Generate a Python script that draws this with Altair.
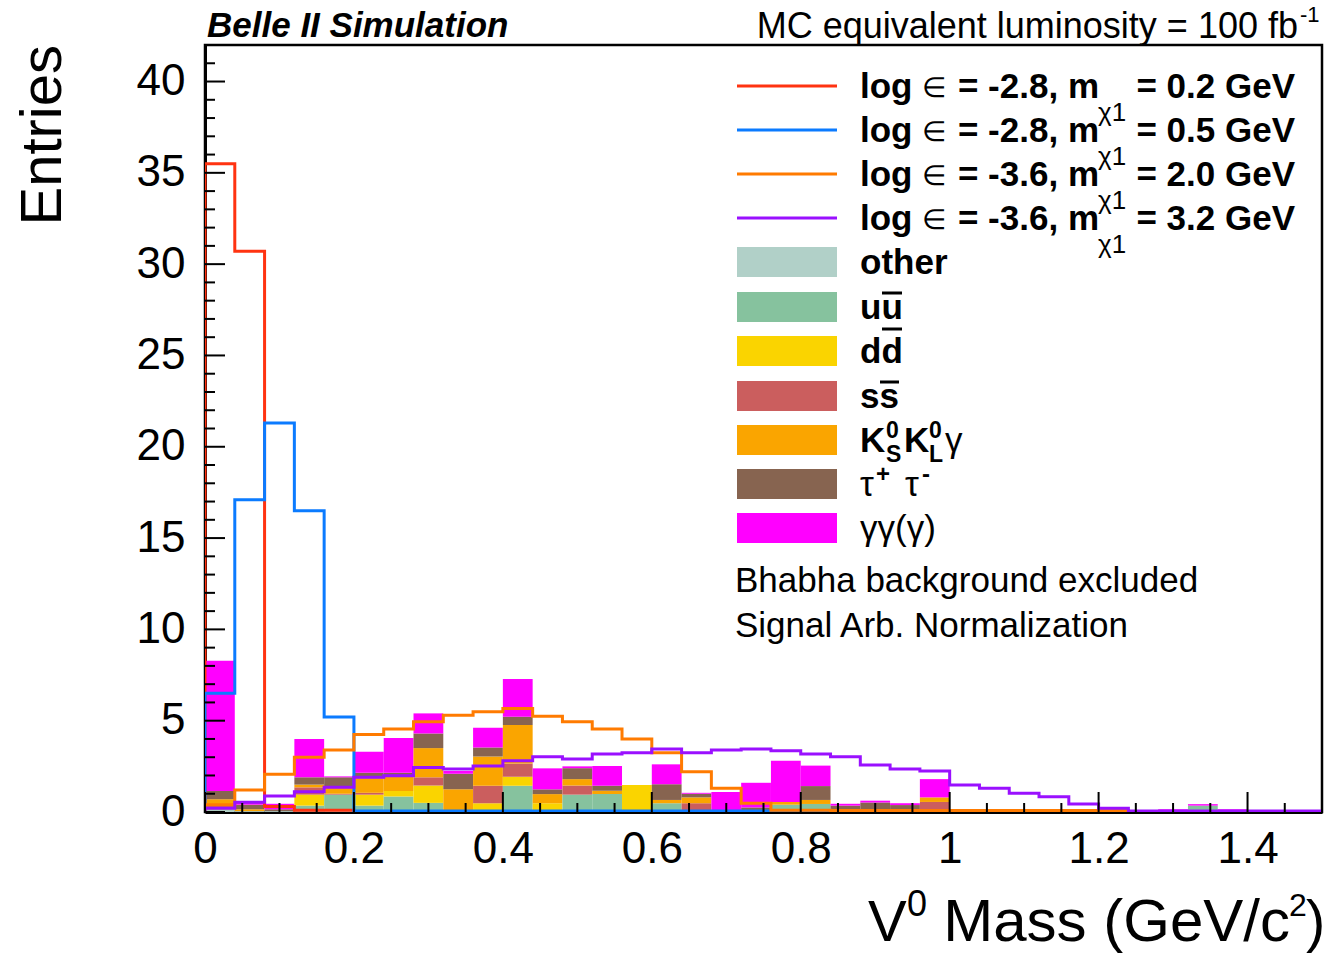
import altair as alt
import pandas as pd

FONT = "Liberation Sans"
BIN_WIDTH = 0.04
X_MAX = 1.5
Y_MAX = 42
W, H = 1117, 767

# ---------------- data ----------------
bkg_names = ["other", "uu", "dd", "ss", "KK", "tautau", "gg"]
bkg_colors = ["#b1d0c8", "#86c29e", "#fad400", "#cb5e5e", "#faa500", "#876450", "#ff00ff"]

bkg_other = [0.1, 0.05, 0.05, 0.05, 0.1, 0.05, 0.05, 0.05, 0.05, 0.05, 0.1, 0.05, 0.1, 0.1, 0.05, 0.1, 0.1, 0.05, 0.05, 0.1,
             0.15, 0.05, 0.07, 0.08, 0.1, 0, 0, 0, 0, 0, 0, 0, 0, 0, 0, 0, 0, 0]
bkg_uu = [0.05, 0, 0, 0.3, 0.85, 0.3, 0.8, 0.45, 0, 0.05, 1.34, 0.05, 0.85, 0.88, 0.05, 0.38, 0, 0, 0, 0.3,
          0.29, 0, 0, 0, 0, 0, 0, 0, 0, 0, 0, 0, 0, 0.35, 0, 0, 0, 0]
bkg_dd = [0.1, 0, 0, 0.6, 0, 0.6, 0.3, 0.95, 0, 0.38, 0.49, 0.38, 0, 0, 1.38, 0, 0, 0, 0, 0,
          0, 0, 0, 0, 0, 0, 0, 0, 0, 0, 0, 0, 0, 0, 0, 0, 0, 0]
bkg_ss = [0.1, 0, 0, 0.4, 0.05, 0.1, 0, 0.45, 0, 0.96, 0.73, 0, 0.5, 0, 0, 0, 0.38, 0, 0, 0,
          0, 0, 0, 0, 0.45, 0, 0, 0, 0, 0, 0, 0, 0, 0, 0, 0, 0, 0]
bkg_kk = [0.35, 0.1, 0, 0.15, 0.35, 0.8, 0.8, 1.6, 1.2, 1.6, 2.1, 0.5, 0.35, 0.19, 0, 0.18, 0.32, 0, 0, 0.15,
          0.22, 0, 0, 0, 0.25, 0, 0, 0, 0, 0, 0, 0, 0, 0, 0, 0, 0, 0]
bkg_tau = [0.45, 0.25, 0.1, 0.4, 0.55, 0.3, 0.2, 0.8, 0.85, 0.49, 0.46, 0.26, 0.6, 0.27, 0, 0.86, 0.2, 0.05, 0.2, 0,
           0.76, 0.3, 0.45, 0.3, 0, 0, 0, 0, 0, 0, 0, 0, 0, 0, 0, 0, 0, 0]
bkg_gg = [7.13, 0.1, 0.3, 2.1, 0.05, 1.15, 1.9, 1.1, 0.15, 1.08, 2.06, 1.15, 0.1, 1.08, 0, 1.09, 0.05, 1.0, 1.35, 2.26,
          1.12, 0.1, 0.1, 0.1, 1.0, 0, 0, 0, 0, 0, 0.25, 0, 0.15, 0.08, 0.15, 0.1, 0.1, 0.1]
bkg_values = [bkg_other, bkg_uu, bkg_dd, bkg_ss, bkg_kk, bkg_tau, bkg_gg]

sig_names = ["sig02", "sig05", "sig20", "sig32"]
sig_colors = ["#ff3311", "#0b7bff", "#ff7b00", "#9a10ff"]
sig_02 = [35.5, 30.7, 0.3, 0.1, 0.1] + [0] * 33
sig_05 = [6.5, 17.1, 21.3, 16.5, 5.2] + [0.05] * 14 + [0] * 19
sig_20 = [0.4, 1.2, 2.07, 3.0, 3.4, 4.25, 4.54, 4.94, 5.3, 5.49, 5.67, 5.25, 4.94, 4.54, 4.0, 3.25, 2.2, 1.3, 0.48, 0.1,
          0.1, 0.08, 0.08, 0.08, 0.08, 0.08, 0.08, 0.08, 0.08, 0.08, 0.08, 0, 0, 0, 0, 0, 0, 0]
sig_32 = [0.2, 0.53, 0.88, 1.11, 1.35, 1.9, 1.98, 2.43, 2.35, 2.52, 2.81, 3.03, 2.9, 3.17, 3.25, 3.45, 3.25, 3.39, 3.45, 3.36,
          3.18, 3.03, 2.57, 2.35, 2.24, 1.48, 1.3, 1.02, 0.84, 0.44, 0.2, 0.05, 0.05, 0.05, 0.05, 0.05, 0.05, 0.05]
sig_values = [sig_02, sig_05, sig_20, sig_32]

sig_label_mid = ["= -2.8, m", "= -2.8, m", "= -3.6, m", "= -3.6, m"]
sig_label_right = ["= 0.2 GeV", "= 0.5 GeV", "= 2.0 GeV", "= 3.2 GeV"]

x_major = [0, 0.2, 0.4, 0.6, 0.8, 1.0, 1.2, 1.4]
x_minor = [round(0.05 * k, 2) for k in range(31) if round(0.05 * k, 2) not in x_major]
y_major = [0, 5, 10, 15, 20, 25, 30, 35, 40]
y_minor = [v for v in range(0, 43) if v % 5 != 0]

# ---------------- tables ----------------
n_bins = len(bkg_gg)
rows = []
for i in range(n_bins):
    lo = i * BIN_WIDTH
    hi = min((i + 1) * BIN_WIDTH, X_MAX)
    cum = 0.0
    for name, vals in zip(bkg_names, bkg_values):
        v = vals[i]
        if v > 0:
            rows.append({"lo": lo, "hi": hi, "y0": cum, "y1": cum + v, "cat": name})
        cum += v
stack_df = pd.DataFrame(rows)

all_names = bkg_names + sig_names
all_colors = bkg_colors + sig_colors
color_scale = alt.Scale(domain=all_names, range=all_colors)

xscale = alt.Scale(domain=[0, X_MAX], nice=False, zero=False)
yscale = alt.Scale(domain=[0, Y_MAX], nice=False, zero=False)
xaxis = alt.Axis(values=x_major, format="~g", ticks=False, grid=False, title=None,
                 labelFontSize=44, labelFont=FONT, labelColor="black", labelPadding=15,
                 domainColor="black", domainWidth=3, labelFlush=False, labelOverlap=False)
yaxis = alt.Axis(values=y_major, format="d", ticks=False, grid=False, title=None,
                 labelFontSize=44, labelFont=FONT, labelColor="black", labelPadding=20,
                 domainColor="black", domainWidth=3, labelFlush=False, labelOverlap=False)

stack = alt.Chart(stack_df).mark_rect(strokeWidth=0).encode(
    x=alt.X("lo:Q", scale=xscale, axis=xaxis),
    x2="hi:Q",
    y=alt.Y("y0:Q", scale=yscale, axis=yaxis),
    y2="y1:Q",
    color=alt.Color("cat:N", scale=color_scale, legend=None),
)

layers = [stack]
for name, vals in zip(sig_names, sig_values):
    pts = [{"x": 0.0, "y": 0.0}]
    for i, v in enumerate(vals):
        lo = i * BIN_WIDTH
        hi = min((i + 1) * BIN_WIDTH, X_MAX)
        pts.append({"x": lo, "y": v})
        pts.append({"x": hi, "y": v})
    pts.append({"x": X_MAX, "y": 0.0})
    df = pd.DataFrame(pts)
    df["o"] = range(len(df))
    df["s"] = name
    layers.append(
        alt.Chart(df).mark_line(strokeWidth=3, interpolate="linear", clip=True).encode(
            x=alt.X("x:Q", scale=xscale, axis=xaxis),
            y=alt.Y("y:Q", scale=yscale, axis=yaxis),
            order="o:Q",
            color=alt.Color("s:N", scale=color_scale, legend=None),
        )
    )

# ticks drawn inward (ROOT style)
def yticks(vals, length):
    return alt.Chart(pd.DataFrame({"v": vals})).mark_rule(color="black", strokeWidth=2).encode(
        y=alt.Y("v:Q", scale=yscale, axis=yaxis), x=alt.value(0), x2=alt.value(length))

def xticks(vals, length):
    return alt.Chart(pd.DataFrame({"v": vals})).mark_rule(color="black", strokeWidth=2).encode(
        x=alt.X("v:Q", scale=xscale, axis=xaxis), y=alt.value(H), y2=alt.value(H - length))

layers += [yticks(y_major, 20), yticks(y_minor, 10), xticks(x_major, 20), xticks(x_minor, 9)]

ONE = alt.Data(values=[{"k": 0}])

def txt(s, x, y, size=35, weight="normal", style="normal", align="left", baseline="alphabetic", angle=None):
    kw = dict(text=s, fontSize=size, fontWeight=weight, fontStyle=style, align=align,
              baseline=baseline, font=FONT, color="black")
    if angle is not None:
        kw["angle"] = angle
    return alt.Chart(ONE).mark_text(**kw).encode(x=alt.value(x), y=alt.value(y))

def hline(x1, x2, y, color, width):
    return alt.Chart(ONE).mark_rule(color=color, strokeWidth=width).encode(
        x=alt.value(x1), x2=alt.value(x2), y=alt.value(y))

def box(x1, x2, y1, y2, color):
    return alt.Chart(ONE).mark_rect(color=color).encode(
        x=alt.value(x1), x2=alt.value(x2), y=alt.value(y1), y2=alt.value(y2))

OX, OY = 205, 45  # plot origin in page pixels
def px(a):
    return a - OX
def py(a):
    return a - OY

# titles
layers.append(txt("Entries", px(44), py(45), size=58, align="right", baseline="middle", angle=270))
layers.append(txt("V", px(868), py(941), size=58))
layers.append(txt("0", px(907), py(916), size=36))
layers.append(txt("Mass (GeV/c", px(1290), py(941), size=60, align="right"))
layers.append(txt("2", px(1289), py(916), size=32))
layers.append(txt(")", px(1306), py(941), size=58))
layers.append(txt("Belle II Simulation", px(207), py(37), size=35, weight="bold", style="italic"))
layers.append(txt("MC equivalent luminosity = 100 fb", px(1298), py(38), size=36, align="right"))
layers.append(txt("-1", px(1300), py(22), size=22))

# legend: signal lines
row_y = [86, 130, 174, 218]
for k in range(4):
    layers.append(hline(px(737), px(837), py(row_y[k]), sig_colors[k], 3))
    layers.append(txt("log", px(860), py(row_y[k] + 12), size=35, weight="bold"))
    layers.append(txt("\u2208", px(922), py(row_y[k] + 11), size=28))
    layers.append(txt(sig_label_mid[k], px(1099), py(row_y[k] + 12), size=35, weight="bold", align="right"))
    layers.append(txt("\u03c71", px(1098), py(row_y[k] + 35), size=26))
    layers.append(txt(sig_label_right[k], px(1295), py(row_y[k] + 12), size=35, weight="bold", align="right"))

# legend: background boxes
box_y = [262, 307, 351, 396, 440, 484, 528]
for k in range(7):
    layers.append(box(px(737), px(837), py(box_y[k] - 15), py(box_y[k] + 15), bkg_colors[k]))

layers.append(txt("other", px(860), py(box_y[0] + 12), weight="bold"))
layers.append(txt("uu", px(860), py(box_y[1] + 12), weight="bold"))
layers.append(hline(px(882), px(902), py(box_y[1] - 14), "black", 3))
layers.append(txt("dd", px(860), py(box_y[2] + 12), weight="bold"))
layers.append(hline(px(882), px(902), py(box_y[2] - 22), "black", 3))
layers.append(txt("ss", px(860), py(box_y[3] + 12), weight="bold"))
layers.append(hline(px(880), px(899), py(box_y[3] - 14), "black", 3))
# K0S K0L gamma
kk_y = box_y[4]
layers.append(txt("K", px(860), py(kk_y + 12), weight="bold"))
layers.append(txt("0", px(886), py(kk_y - 2), size=23, weight="bold"))
layers.append(txt("S", px(886), py(kk_y + 22), size=23, weight="bold"))
layers.append(txt("K", px(904), py(kk_y + 12), weight="bold"))
layers.append(txt("0", px(929), py(kk_y - 2), size=23, weight="bold"))
layers.append(txt("L", px(929), py(kk_y + 22), size=23, weight="bold"))
layers.append(txt("\u03b3", px(945), py(kk_y + 12)))
# tau+ tau-
tt_y = box_y[5]
layers.append(txt("\u03c4", px(860), py(tt_y + 12)))
layers.append(txt("+", px(876), py(tt_y - 2), size=24, weight="bold"))
layers.append(txt("\u03c4", px(905), py(tt_y + 12)))
layers.append(txt("-", px(922), py(tt_y - 2), size=24, weight="bold"))
layers.append(txt("\u03b3\u03b3(\u03b3)", px(860), py(box_y[6] + 12)))

layers.append(txt("Bhabha background excluded", px(735), py(592)))
layers.append(txt("Signal Arb. Normalization", px(735), py(637)))

chart = alt.layer(*layers).properties(
    width=W, height=H,
    autosize=alt.AutoSizeParams(type="none"),
    padding={"left": OX, "top": OY, "right": 1337 - OX - W, "bottom": 954 - OY - H},
    background="white",
).configure_view(stroke="black", strokeWidth=2.5)

chart.save("out.html", embed_options={"renderer": "svg", "actions": False})
